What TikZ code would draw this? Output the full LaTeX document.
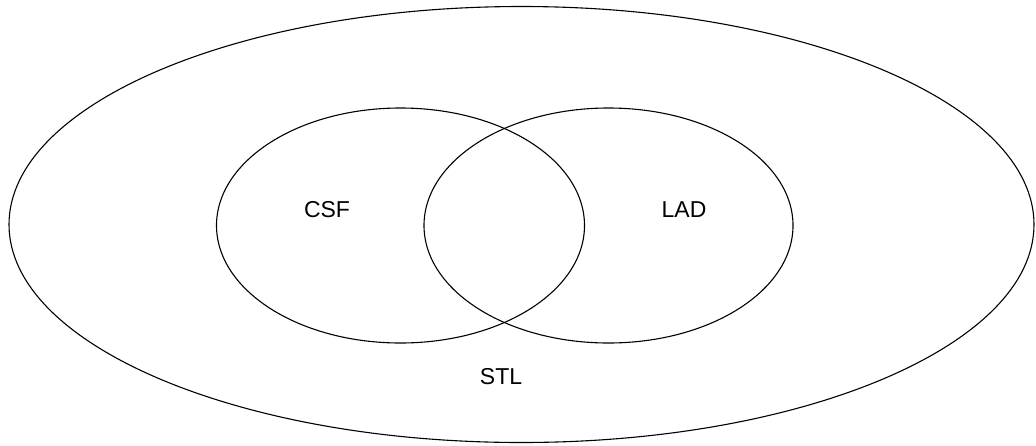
\documentclass[tikz,border=0pt]{standalone}
\usepackage{fontspec}
\setmainfont{Liberation Sans}
\begin{document}
\begin{tikzpicture}[x=1pt,y=-1pt]
	\useasboundingbox (0,0) rectangle (1036,445);
	\tikzset{set/.style={line width=1.1pt},
		setlabel/.style={font=\fontsize{23}{26}\selectfont}}
	\coordinate (O) at (521.5,224.5);
	\coordinate (L) at (400.5,225.5);
	\coordinate (R) at (608.5,225.5);
	\draw [set] (O) ellipse [x radius=512.5, y radius=218];
	\draw [set] (L) ellipse [x radius=184, y radius=117.5];
	\draw [set] (R) ellipse [x radius=184.5, y radius=117.5];
	\node [setlabel] (csf) at (327,210) {CSF};
	\node [setlabel] (lad) at (684,210) {LAD};
	\node [setlabel] (stl) at (501,377) {STL};
\end{tikzpicture}
\end{document}
